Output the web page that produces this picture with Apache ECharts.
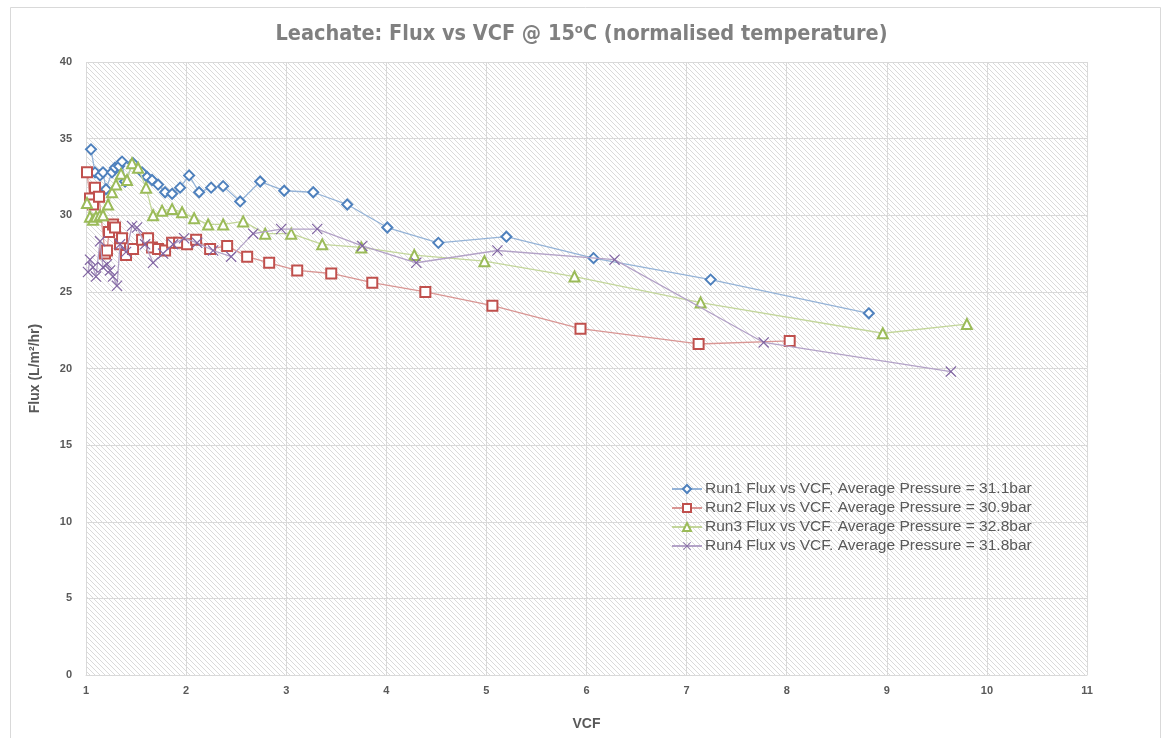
<!DOCTYPE html>
<html>
<head>
<meta charset="utf-8">
<script src="https://cdn.jsdelivr.net/npm/echarts@6/dist/echarts.min.js"></script>
<style>
html,body{margin:0;padding:0;background:#fff;}
#chart{width:1163px;height:738px;}
</style>
</head>
<body>
<div id="chart"></div>
<script>
// ---- data ----
const run1Vcf  = [1.05,1.09,1.14,1.17,1.20,1.26,1.29,1.33,1.36,1.39,1.47,1.56,1.61,1.66,1.72,1.79,1.86,1.94,2.03,2.13,2.25,2.37,2.54,2.74,2.98,3.27,3.61,4.01,4.52,5.20,6.07,7.24,8.82];
const run1Flux = [34.3,32.8,32.6,32.8,31.7,32.8,33.1,33.2,33.5,32.2,33.4,32.8,32.5,32.3,32.0,31.5,31.4,31.8,32.6,31.5,31.8,31.9,30.9,32.2,31.6,31.5,30.7,29.2,28.2,28.6,27.2,25.8,23.6];

const run2Vcf  = [1.01,1.04,1.07,1.09,1.13,1.19,1.21,1.23,1.27,1.29,1.34,1.36,1.40,1.47,1.56,1.62,1.66,1.72,1.79,1.86,1.93,2.01,2.10,2.24,2.41,2.61,2.83,3.11,3.45,3.86,4.39,5.06,5.94,7.12,8.03];
const run2Flux = [32.8,31.1,30.7,31.8,31.2,27.5,27.7,28.9,29.4,29.2,28.1,28.5,27.4,27.8,28.4,28.5,27.9,27.8,27.7,28.2,28.2,28.1,28.4,27.8,28.0,27.3,26.9,26.4,26.2,25.6,25.0,24.1,22.6,21.6,21.8];

const run3Vcf  = [1.01,1.04,1.07,1.10,1.14,1.17,1.22,1.26,1.30,1.35,1.41,1.46,1.52,1.60,1.67,1.76,1.86,1.96,2.08,2.22,2.37,2.57,2.79,3.05,3.36,3.75,4.28,4.98,5.88,7.14,8.96,9.80];
const run3Flux = [30.8,29.9,29.7,29.9,30.0,30.0,30.7,31.5,32.0,32.7,32.3,33.4,33.1,31.8,30.0,30.3,30.4,30.2,29.8,29.4,29.4,29.6,28.8,28.8,28.1,27.9,27.4,27.0,26.0,24.3,22.3,22.9];

const run4Vcf  = [1.02,1.04,1.07,1.10,1.14,1.17,1.21,1.24,1.27,1.31,1.34,1.40,1.46,1.51,1.59,1.67,1.77,1.87,1.98,2.11,2.27,2.45,2.67,2.95,3.31,3.76,4.30,5.11,6.28,7.77,9.64];
const run4Flux = [26.3,27.1,26.6,26.0,28.3,26.6,26.8,26.4,26.0,25.4,28.1,27.6,29.3,29.2,28.1,26.9,27.5,28.1,28.5,28.2,27.7,27.3,28.8,29.1,29.1,28.0,26.9,27.7,27.1,21.7,19.8];

const seriesNames = [
  'Run1 Flux vs VCF, Average Pressure = 31.1bar',
  'Run2 Flux vs VCF. Average Pressure = 30.9bar',
  'Run3 Flux vs VCF. Average Pressure = 32.8bar',
  'Run4 Flux vs VCF. Average Pressure = 31.8bar'
];
const xTicks = [1,2,3,4,5,6,7,8,9,10,11];
const yTicks = [0,5,10,15,20,25,30,35,40];

// ---- styling helpers ----
function hatch(){
  const c = document.createElement('canvas');
  c.width = 5; c.height = 5;
  const g = c.getContext('2d');
  g.fillStyle = '#ffffff'; g.fillRect(0,0,5,5);
  g.strokeStyle = '#dadada'; g.lineWidth = 1;
  g.beginPath();
  g.moveTo(-1,-1); g.lineTo(6,6);
  g.moveTo(-1,4); g.lineTo(1,6);
  g.moveTo(4,-1); g.lineTo(6,1);
  g.stroke();
  return c;
}
const pairs = (xs, ys) => xs.map((x,i)=>[x, ys[i]]);
const xSym = 'path://M0,1.5L1.5,0L10,8.5L18.5,0L20,1.5L11.5,10L20,18.5L18.5,20L10,11.5L1.5,20L0,18.5L8.5,10Z';

const colors = ['#4F81BD','#C0504D','#9BBB59','#8064A2'];
const lineColors = ['#95b3d7','#d99694','#c3d69b','#b3a2c7'];

function mk(i, xs, ys, symbol, size, filled){
  return {
    name: seriesNames[i],
    type: 'line',
    data: pairs(xs, ys),
    symbol: symbol,
    symbolSize: size,
    showAllSymbol: true,
    lineStyle: {color: lineColors[i], width: 1.3},
    itemStyle: filled
      ? {color: colors[i], borderWidth: 0}
      : {color: colors[i], borderColor: colors[i], borderWidth: 2},
    emphasis: {disabled: true},
    z: 2 + i
  };
}

const titleFont = '"DejaVu Sans Condensed","Liberation Sans Narrow",sans-serif';
const chart = echarts.init(document.getElementById('chart'), null, {renderer:'canvas'});
chart.setOption({
  animation: false,
  backgroundColor: '#ffffff',
  color: colors,
  title: {
    text: '{a|Leachate: Flux vs VCF @ 15}{s|o}{a|C (normalised temperature)}',
    left: 'center',
    top: 18,
    textStyle: {
      rich: {
        a: {fontFamily: titleFont, fontWeight: 'bold', fontSize: 21.5, color: '#808080'},
        s: {fontFamily: titleFont, fontWeight: 'bold', fontSize: 13, color: '#808080', verticalAlign: 'top', padding: [0,0,9,0]}
      }
    }
  },
  graphic: [{
    type: 'rect', left: 8, top: 5, shape: {width: 1150, height: 740},
    style: {fill: 'none', stroke: '#d9d9d9', lineWidth: 1}, silent: true
  }],
  grid: {
    left: 86, right: 76, top: 62, bottom: 63,
    show: true, backgroundColor: {image: hatch(), repeat: 'repeat'}, borderWidth: 0
  },
  legend: {
    orient: 'vertical',
    left: 666, top: 476,
    itemWidth: 30, itemHeight: 10, itemGap: 3,
    textStyle: {fontFamily: '"Liberation Sans",sans-serif', fontSize: 15.5, color: '#595959', padding: [0,0,0,-2]},
    data: seriesNames
  },
  xAxis: {
    type: 'value',
    min: xTicks[0], max: xTicks[xTicks.length-1], interval: 1,
    name: 'VCF', nameLocation: 'middle', nameGap: 42,
    nameTextStyle: {fontFamily: '"Liberation Sans",sans-serif', fontWeight: 'bold', fontSize: 14, color: '#595959'},
    axisLine: {show: true, lineStyle: {color: '#d9d9d9'}},
    axisTick: {show: false},
    axisLabel: {fontFamily: '"Liberation Sans",sans-serif', fontWeight: 'bold', fontSize: 11, color: '#595959', margin: 10},
    splitLine: {show: true, lineStyle: {color: '#d9d9d9', width: 1}}
  },
  yAxis: {
    type: 'value',
    min: yTicks[0], max: yTicks[yTicks.length-1], interval: 5,
    name: 'Flux (L/m²/hr)', nameLocation: 'middle', nameGap: 44, nameRotate: 90,
    nameTextStyle: {fontFamily: '"Liberation Sans",sans-serif', fontWeight: 'bold', fontSize: 14, color: '#595959'},
    axisLine: {show: false},
    axisTick: {show: false},
    axisLabel: {fontFamily: '"Liberation Sans",sans-serif', fontWeight: 'bold', fontSize: 11, color: '#595959', margin: 14},
    splitLine: {show: true, lineStyle: {color: '#d9d9d9', width: 1}}
  },
  series: [
    mk(0, run1Vcf, run1Flux, 'emptyDiamond', 10, false),
    mk(1, run2Vcf, run2Flux, 'emptyRect', 10, false),
    mk(2, run3Vcf, run3Flux, 'emptyTriangle', 10, false),
    mk(3, run4Vcf, run4Flux, xSym, 11, true)
  ]
});
</script>
</body>
</html>
